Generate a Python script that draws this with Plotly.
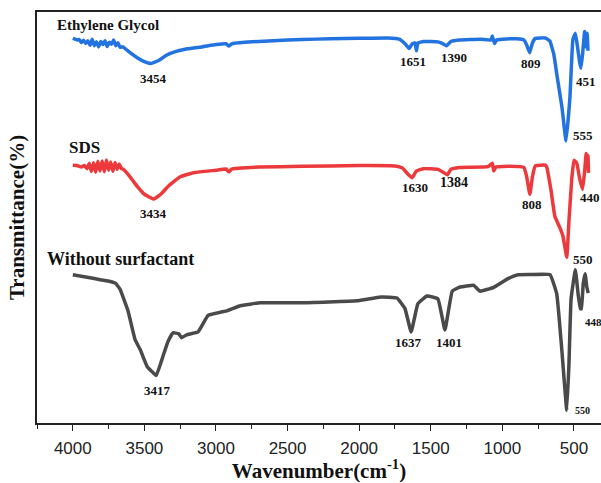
import plotly.graph_objects as go

# FTIR spectra (arbitrary transmittance units, curves offset vertically)
eg_wn = [4000, 3985, 3970, 3955, 3940, 3925, 3910, 3895, 3880, 3865, 3850, 3835, 3820,
         3805, 3790, 3775, 3760, 3745, 3730, 3715, 3700, 3685, 3670, 3650,
         3600, 3550, 3500, 3454, 3400, 3350, 3300, 3200, 3100, 3000, 2930, 2910, 2890,
         2800, 2600, 2400, 2200, 2000, 1800, 1720, 1680, 1651, 1630, 1610, 1600, 1590,
         1550, 1450, 1420, 1390, 1360, 1300, 1150, 1080, 1070, 1055, 1040, 1000, 900,
         850, 830, 809, 790, 770, 700, 668, 640, 619, 584, 555, 528, 507, 490, 475,
         460, 451, 440, 425, 415, 408, 402]
eg_val = [99.2, 99.0, 98.8, 98.9, 98.1, 98.7, 97.9, 98.6, 97.4, 99.0, 97.3, 98.3, 97.0,
          98.4, 97.6, 98.6, 97.1, 98.2, 97.7, 98.8, 97.3, 98.1, 96.9, 97.0,
          95.5, 94.2, 93.2, 92.75, 93.5, 94.8, 95.6, 96.5, 97.0, 97.6, 97.8, 97.2, 97.8,
          98.2, 98.6, 98.9, 99.1, 99.2, 99.3, 99.0, 97.8, 96.6, 97.8, 98.0, 96.0, 98.0,
          98.4, 98.3, 97.9, 97.3, 98.4, 98.8, 99.0, 98.8, 99.8, 97.9, 98.8, 99.0, 99.1,
          98.8, 97.5, 95.5, 98.0, 99.2, 99.3, 98.5, 95.0, 89.75, 81.5, 72.75, 84.0, 99.0,
          100.5, 97.0, 93.0, 91.5, 95.0, 101.0, 97.0, 100.5, 96.0]

sds_wn = [4000, 3970, 3940, 3920, 3900, 3885, 3870, 3855, 3840, 3825, 3810, 3795, 3780,
          3765, 3750, 3735, 3720, 3705, 3690, 3675, 3660, 3650,
          3600, 3550, 3500, 3434, 3380, 3330, 3250, 3150, 3000, 2930, 2910,
          2890, 2700, 2400, 2000, 1750, 1700, 1660, 1630, 1600, 1550, 1450, 1410, 1384,
          1360, 1300, 1100, 1070, 1060, 1045, 950, 850, 830, 808, 790, 770, 700, 690,
          660, 633, 600, 577, 550, 535, 515, 500, 480, 460, 440, 425, 415, 408, 402, 398]
sds_val = [66.5, 66.4, 66.0, 66.4, 65.6, 67.0, 64.9, 67.1, 64.7, 67.5, 65.0, 67.6, 64.8,
           67.8, 65.2, 67.3, 64.9, 67.2, 65.4, 66.8, 65.6, 65.5,
           63.5, 61.0, 59.0, 57.75, 59.2, 61.2, 63.5, 64.6, 65.2, 65.5, 64.8,
           65.5, 66.0, 66.2, 66.4, 66.3, 65.8, 64.2, 63.25, 65.0, 65.6, 65.4, 64.6, 64.0,
           65.4, 65.9, 66.1, 67.0, 65.0, 66.0, 66.2, 65.9, 63.5, 59.0, 63.5, 66.3, 66.5,
           66.0, 60.0, 53.25, 50.5, 48.25, 42.75, 52.0, 63.0, 67.75, 67.0, 63.0, 60.25,
           65.0, 69.5, 66.0, 69.0, 64.5]

ws_wn = [4000, 3900, 3800, 3740, 3700, 3670, 3615, 3565, 3530, 3480, 3440, 3417, 3370,
         3335, 3300, 3260, 3240, 3205, 3125, 3055, 2920, 2830, 2690, 2413, 2015, 1850,
         1736, 1680, 1637, 1590, 1526, 1450, 1401, 1350, 1300, 1200, 1156, 1060, 960,
         890, 800, 667, 620, 585, 550, 535, 520, 490, 470, 455, 448, 435, 422, 410, 400]
ws_val = [38.25, 37.6, 36.9, 36.5, 36.0, 34.5, 29.0, 21.5, 19.0, 14.5, 13.0, 12.25, 17.25,
          21.0, 23.25, 23.0, 22.0, 22.75, 23.5, 27.75, 29.0, 30.25, 31.0, 31.0, 31.5, 32.5,
          32.25, 29.5, 23.5, 30.75, 32.75, 32.0, 24.0, 34.0, 35.0, 35.5, 34.0, 35.0, 37.25,
          38.25, 38.3, 38.25, 33.25, 19.0, 3.25, 15.0, 32.0, 39.5, 33.0, 29.5, 29.5, 36.0,
          38.5, 35.0, 33.5]

# peak labels: (wavenumber, xshift, yshift, font size)
eg_peaks = [(3454, 3, -15, 13), (1651, 4, -13, 13), (1390, 7, -12, 13),
            (809, 1, -11, 13), (451, 5, -13, 13), (555, 17, 5, 13)]
sds_peaks = [(3434, 0, -14, 13), (1630, 3, -10, 13), (1384, 7, -8, 14),
             (808, 2, -10, 13), (440, 7, -8, 13), (550, 16, -2, 13)]
ws_peaks = [(3417, 1, -15, 13), (1637, -3, -11, 13), (1401, 4, -13, 13),
            (448, 12, -13, 11), (550, 16, 0, 10)]

series = [
    ("Ethylene Glycol", eg_wn, eg_val, "#2272DF", eg_peaks),
    ("SDS", sds_wn, sds_val, "#EC3A3C", sds_peaks),
    ("Without surfactant", ws_wn, ws_val, "#4A4A4A", ws_peaks),
]

SERIF = "Liberation Serif, Times New Roman, serif"
SANS = "Liberation Sans, Arial, sans-serif"

fig = go.Figure()
annotations = []
for name, wn, val, color, peaks in series:
    fig.add_trace(go.Scatter(x=wn, y=val, mode="lines", name=name,
                             line=dict(color=color, width=3.5, shape="spline", smoothing=0.3)))
    for p, dx, dy, fs in peaks:
        yv = val[wn.index(p)]
        annotations.append(dict(x=p, y=yv, xref="x", yref="y", text=f"<b>{p}</b>",
                                showarrow=False, xshift=dx, yshift=dy,
                                font=dict(family=SERIF, size=fs, color="#111")))

# sample names, left-aligned (paper pixel positions: plot area spans x 37..601, y 12..436)
W, H, L, T = 564.0, 424.0, 37.0, 12.0
def paper(px, py):
    return (px - L) / W, 1 - (py - T) / H

for text, px, py, fs in [("Ethylene Glycol", 55, 25, 15), ("SDS", 67, 152, 17),
                         ("Without surfactant", 45, 267, 18)]:
    xp, yp = paper(px, py)
    annotations.append(dict(x=xp, y=yp, xref="paper", yref="paper", text=f"<b>{text}</b>",
                            showarrow=False, xanchor="left", yanchor="middle",
                            font=dict(family=SERIF, size=fs, color="#111")))

fig.update_layout(
    width=601, height=483,
    margin=dict(l=37, r=0, t=12, b=47),
    paper_bgcolor="white", plot_bgcolor="white",
    showlegend=False,
    annotations=annotations,
    xaxis=dict(range=[4250, 311], showgrid=False, zeroline=False,
               showline=True, linecolor="#222", linewidth=1.5, mirror=True,
               ticks="outside", ticklen=6, tickwidth=1.2, tickcolor="#222",
               tickvals=[4000, 3500, 3000, 2500, 2000, 1500, 1000, 500],
               tickfont=dict(family=SANS, size=17, color="#222"),
               ticklabelstandoff=3,
               minor=dict(dtick=250, tick0=0, ticks="outside", ticklen=4,
                          tickcolor="#222", tickwidth=1.2),
               title=dict(text="<b>Wavenumber(cm<sup>-1</sup>)</b>", standoff=10,
                          font=dict(family=SERIF, size=21, color="#111"))),
    yaxis=dict(range=[0, 106], showgrid=False, zeroline=False,
               showline=True, linecolor="#222", linewidth=1.5,
               showticklabels=False, ticks="",
               title=dict(text="<b>Transmittance(%)</b>", standoff=5,
                          font=dict(family=SERIF, size=21, color="#111"))),
)

fig.write_html("out.html")
